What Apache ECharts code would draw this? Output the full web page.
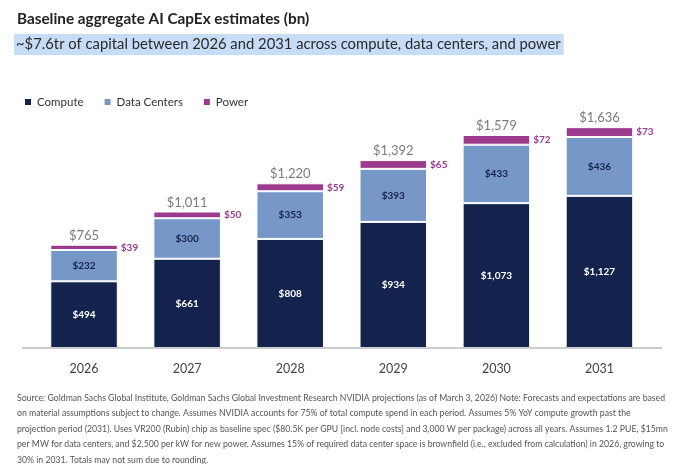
<!DOCTYPE html>
<html><head><meta charset="utf-8">
<script src="https://cdn.jsdelivr.net/npm/echarts@6/dist/echarts.min.js"></script>
<style>html,body{margin:0;padding:0;background:#fff}#c{width:680px;height:464px}</style>
</head><body><div id="c"></div>
<script>
const years = ['2026','2027','2028','2029','2030','2031'];
const compute = [494, 661, 808, 934, 1073, 1127];
const dataCenters = [232, 300, 353, 393, 433, 436];
const power = [39, 50, 59, 65, 72, 73];
const totals = [765, 1011, 1220, 1392, 1579, 1636];

const FONT = 'Lato';
const chart = echarts.init(document.getElementById('c'), null, {renderer:'canvas'});
const fmt = v => '$' + v.toLocaleString('en-US');
const note = [
 'Source: Goldman Sachs Global Institute, Goldman Sachs Global Investment Research NVIDIA projections (as of March 3, 2026) Note: Forecasts and expectations are based',
 'on material assumptions subject to change. Assumes NVIDIA accounts for 75% of total compute spend in each period. Assumes 5% YoY compute growth past the',
 'projection period (2031). Uses VR200 (Rubin) chip as baseline spec ($80.5K per GPU [incl. node costs] and 3,000 W per package) across all years. Assumes 1.2 PUE, $15mn',
 'per MW for data centers, and $2,500 per kW for new power. Assumes 15% of required data center space is brownfield (i.e., excluded from calculation) in 2026, growing to',
 '30% in 2031. Totals may not sum due to rounding.'
].join('\n');

chart.setOption({
  animation:false,
  textStyle:{fontFamily:FONT},
  title:[
    {text:'Baseline aggregate AI CapEx estimates (bn)', left:12, top:7,
     textStyle:{fontFamily:FONT, fontWeight:'bold', fontSize:15.3, color:'#222'}},
    {text:'~$7.6tr of capital between 2026 and 2031 across compute, data centers, and power', left:14, top:34,
     padding:[3,3,3,2], backgroundColor:'#c7dcf7',
     textStyle:{fontFamily:FONT, fontWeight:'normal', fontSize:14.8, color:'#2a2a2a'}},
    {text:note, left:12, top:385,
     textStyle:{fontFamily:FONT, fontWeight:'normal', fontSize:8.7, lineHeight:15.6, color:'#555'}}
  ],
  legend:{left:18, top:91, itemWidth:8, itemHeight:8, itemGap:19, icon:'rect',
    textStyle:{fontFamily:FONT, fontSize:11.5, color:'#333'},
    data:['Compute','Data Centers','Power']},
  grid:{left:32.5, right:29, top:78, bottom:116},
  xAxis:{type:'category', data:years, axisLine:{show:false}, axisTick:{show:false},
    axisLabel:{margin:14, fontFamily:FONT, fontSize:12.5, color:'#444'}},
  yAxis:{type:'value', min:0, max:2000, show:false, splitLine:{show:false}},
  graphic:[{type:'line', shape:{x1:22, y1:348, x2:662, y2:348}, style:{stroke:'#9a9a9a', lineWidth:1.2}, z:10}],
  series:[
    {name:'Compute', type:'bar', stack:'a', data:compute, barWidth:'65.5%',
     itemStyle:{color:'#13234e', borderColor:'#fff', borderWidth:1},
     label:{show:true, position:'inside', formatter:p=>fmt(p.value), color:'#fff', fontWeight:'bold', fontSize:10, fontFamily:FONT}},
    {name:'Data Centers', type:'bar', stack:'a', data:dataCenters,
     itemStyle:{color:'#7797c8', borderColor:'#fff', borderWidth:1},
     label:{show:true, position:'inside', formatter:p=>fmt(p.value), color:'#13234e', fontWeight:'bold', fontSize:10, fontFamily:FONT}},
    {name:'Power', type:'bar', stack:'a', data:power,
     itemStyle:{color:'#9c3b8e', borderColor:'#fff', borderWidth:1},
     label:{show:true, position:'right', distance:3, formatter:p=>fmt(p.value), color:'#9c3b8e', fontWeight:'bold', fontSize:10, fontFamily:FONT}},
    {name:'Total', type:'scatter', data:totals, symbol:'circle', symbolSize:2,
     itemStyle:{color:'rgba(0,0,0,0)'}, silent:true, z:5,
     label:{show:true, position:'top', distance:1.5, formatter:p=>fmt(p.value), color:'#5a5a5a', fontSize:13, fontFamily:FONT}}
  ]
});
</script></body></html>
